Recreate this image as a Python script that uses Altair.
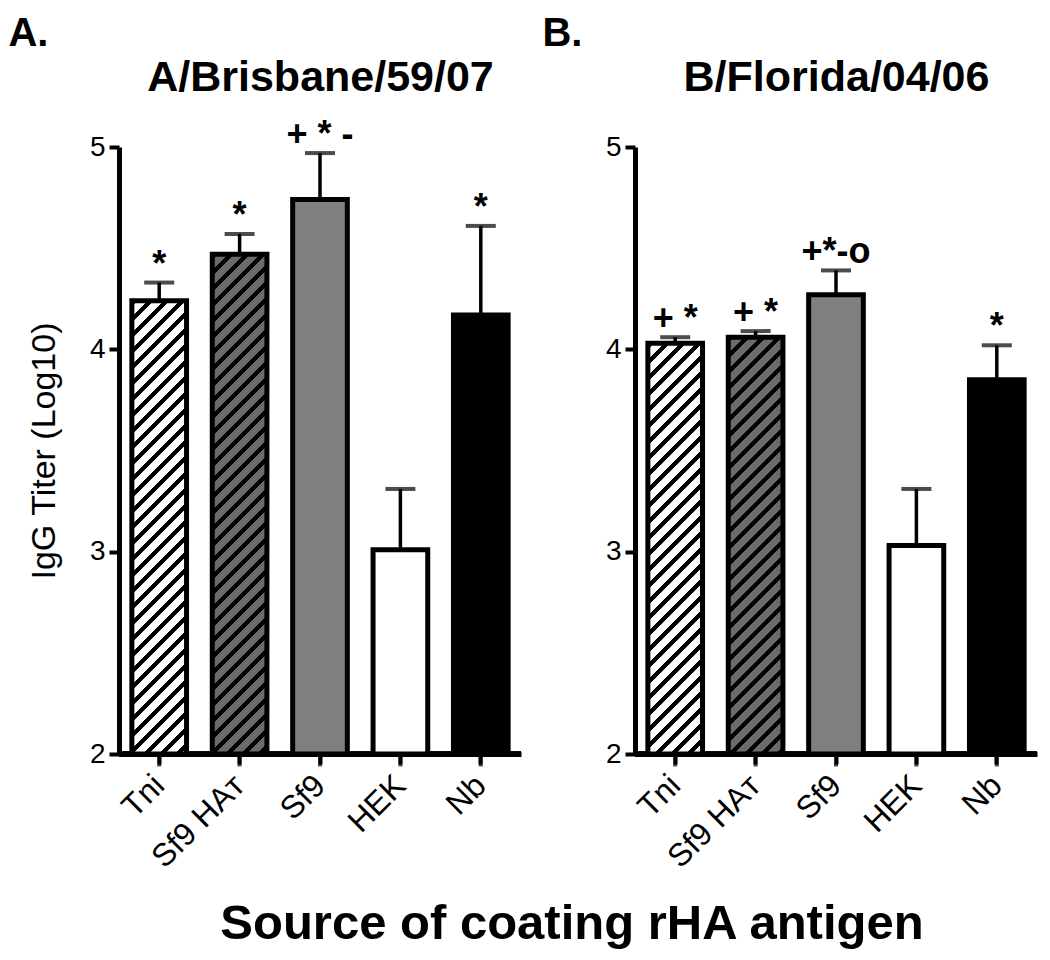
import altair as alt

FONT = "Liberation Sans"

categories = ["Tni", "Sf9 HAᴛ", "Sf9", "HEK", "Nb"]
brisbane_mean = [4.24, 4.47, 4.74, 3.01, 4.17]
brisbane_err = [4.33, 4.57, 4.97, 3.31, 4.61]
brisbane_marks = ["*", "*", "+ * -", "", "*"]
florida_mean = [4.03, 4.06, 4.27, 3.03, 3.85]
florida_err = [4.06, 4.09, 4.39, 3.31, 4.02]
florida_marks = ["+ *", "+ *", "+*-o", "", "*"]
bar_colors = ["white", "#6b6b6b", "#808080", "white", "black"]
hatched = [True, True, False, False, False]

PLOT_W = 402
PLOT_H = 607
PAD_INNER = 0.32
Y_MIN, Y_MAX = 2, 5


def hatch_fill(bg, value):
    step = PLOT_W / 5.0
    w = step * (1 - PAD_INNER)
    h = (value - Y_MIN) / (Y_MAX - Y_MIN) * PLOT_H
    L = w + h
    k = L / (w * w + h * h)
    period, line = 16.0, 6.0
    stops = []
    n = int(L / period) + 1
    for i in range(n):
        a = min(i * period / L, 1)
        b = min((i * period + line) / L, 1)
        c = min((i + 1) * period / L, 1)
        stops += [
            {"offset": a, "color": "black"},
            {"offset": b, "color": "black"},
            {"offset": b, "color": bg},
            {"offset": c, "color": bg},
        ]
    return {"gradient": "linear", "x1": 0, "y1": 0, "x2": k * w, "y2": k * h, "stops": stops}


def panel(means, errs, marks, strain, letter, y_title, letter_dx):
    rows = []
    for c, m, e, t, col, hat in zip(categories, means, errs, marks, bar_colors, hatched):
        rows.append({
            "cat": c, "mean": m, "err": e, "mark": t,
            "fill": hatch_fill(col, m) if hat else col,
        })
    base = alt.Chart(alt.Data(values=rows))
    xscale = alt.Scale(paddingInner=PAD_INNER, paddingOuter=PAD_INNER / 2)
    xaxis = alt.Axis(title=strain, labelAngle=-45, labelAlign="right", labelBaseline="middle",
                     labelPadding=16, tickSize=10)
    x = alt.X("cat:N", sort=categories, scale=xscale, axis=xaxis)
    yscale = alt.Scale(domain=[Y_MIN, Y_MAX], zero=False, nice=False)
    yaxis = alt.Axis(values=[2, 3, 4, 5], format="d", title=y_title,
                     domain=True, ticks=True, tickSize=10, tickWidth=4, tickColor="black",
                     domainColor="black", domainWidth=5, labelPadding=4,
                     labelFont=FONT, labelFontSize=28, labelColor="black",
                     titleFontSize=34, titleFontWeight="normal", titlePadding=28,
                     titleFont=FONT, titleColor="black")
    y_mean = alt.Y("mean:Q", scale=yscale, axis=yaxis)
    y_err = alt.Y("err:Q", scale=yscale, axis=yaxis)
    y_base = alt.Y(datum=Y_MIN, scale=yscale, axis=yaxis)
    baseline = base.mark_rule(color="black", strokeWidth=5).encode(y=y_base)
    xticks = base.mark_tick(color="black", thickness=4, size=13, orient="vertical",
                            yOffset=6).encode(x=x, y=y_base)
    rule = base.mark_rule(color="black", strokeWidth=3.5).encode(x=x, y=y_mean, y2="err:Q")
    cap = base.mark_tick(color="black", thickness=4, size=30).encode(x=x, y=y_err)
    bars = base.mark_bar(stroke="black", strokeWidth=5).encode(
        x=x, y=y_mean, y2=alt.datum(Y_MIN), fill=alt.Fill("fill:N", scale=None)
    )
    text = base.mark_text(font=FONT, fontSize=36, fontWeight="bold", baseline="middle",
                          dy=-18, color="black").encode(x=x, y=y_err, text="mark:N")
    return alt.layer(xticks, baseline, rule, cap, bars, text).properties(
        width=PLOT_W, height=PLOT_H,
        title=alt.Title(letter, font=FONT, fontSize=40, fontWeight="bold", color="black",
                        anchor="start", frame="bounds", dx=letter_dx, offset=2),
    )


panel_a = panel(brisbane_mean, brisbane_err, brisbane_marks, "A/Brisbane/59/07", "A.",
                "IgG Titer (Log10)", -19)
panel_b = panel(florida_mean, florida_err, florida_marks, "B/Florida/04/06", "B.", None, -63)

chart = alt.hconcat(
    panel_a, panel_b, spacing=18,
    title=alt.Title("Source of coating rHA antigen", orient="bottom", font=FONT, fontSize=49,
                    fontWeight="bold", color="black", anchor="middle", offset=27, dx=48),
).properties(padding={"top": 6, "left": 0, "right": 0, "bottom": 0}).configure_view(
    stroke=None
).configure_axis(
    grid=False, domainColor="black", domainWidth=5, tickColor="black", tickWidth=4,
).configure_axisX(
    labelFont=FONT, labelFontSize=32, labelColor="black",
    titleX=PLOT_W / 2, titleY=-(PLOT_H + 57), titleAlign="center", titleBaseline="alphabetic",
    titleFont=FONT, titleFontSize=43, titleFontWeight="bold", titleColor="black",
)

chart.save("out.html", embed_options={"renderer": "svg", "actions": False})
